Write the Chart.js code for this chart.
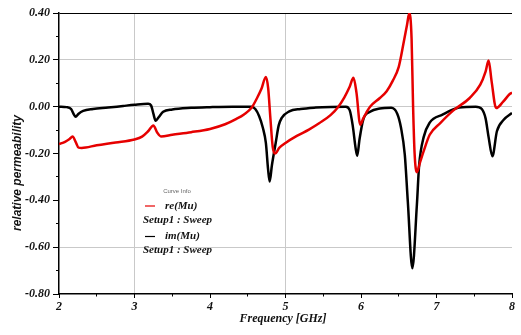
<!DOCTYPE html>
<html><head><meta charset="utf-8">
<script src="https://cdn.jsdelivr.net/npm/chart.js@4"></script>
<style>html,body{margin:0;padding:0;background:#fff}#wrap{width:521px;height:335px;position:relative}</style>
</head><body><div id="wrap"><canvas id="c" width="521" height="335"></canvas></div>
<script>
// ---- data ----
const reFreq = [2.00,2.08,2.14,2.18,2.22,2.26,2.30,2.50,2.75,3.00,3.10,3.18,3.25,3.30,3.35,3.50,3.75,4.00,4.20,4.35,4.45,4.55,4.62,4.68,4.74,4.77,4.80,4.83,4.86,4.92,5.00,5.15,5.31,5.45,5.60,5.70,5.78,5.85,5.90,5.94,5.99,6.03,6.07,6.12,6.25,6.34,6.42,6.50,6.56,6.61,6.64,6.67,6.69,6.71,6.74,6.78,6.83,6.91,7.05,7.22,7.44,7.58,7.65,7.69,7.73,7.79,7.88,7.97,8.00];
const reMu   = [-0.160,-0.150,-0.138,-0.127,-0.150,-0.175,-0.176,-0.165,-0.153,-0.140,-0.128,-0.105,-0.080,-0.110,-0.127,-0.120,-0.109,-0.095,-0.075,-0.052,-0.033,-0.005,0.035,0.075,0.127,0.080,-0.050,-0.170,-0.200,-0.175,-0.155,-0.125,-0.098,-0.070,-0.035,0.000,0.040,0.085,0.123,0.060,-0.077,-0.050,-0.026,0.000,0.037,0.066,0.110,0.170,0.265,0.350,0.400,0.290,0.000,-0.200,-0.280,-0.240,-0.190,-0.120,-0.070,-0.017,0.037,0.094,0.150,0.197,0.108,-0.006,0.020,0.054,0.060];
const imFreq = [2.00,2.10,2.16,2.20,2.22,2.26,2.32,2.45,2.65,2.85,3.00,3.18,3.22,3.25,3.28,3.32,3.38,3.50,3.75,4.00,4.30,4.55,4.60,4.65,4.70,4.74,4.77,4.79,4.82,4.87,4.91,4.95,5.05,5.20,5.40,5.60,5.80,5.85,5.89,5.93,5.95,5.98,6.03,6.12,6.25,6.40,6.48,6.53,6.58,6.62,6.68,6.74,6.77,6.83,6.91,7.08,7.30,7.52,7.60,7.65,7.69,7.74,7.80,7.89,8.00];
const imMu   = [0.000,-0.002,-0.010,-0.035,-0.043,-0.030,-0.018,-0.010,-0.004,0.003,0.008,0.012,0.005,-0.030,-0.060,-0.045,-0.022,-0.012,-0.005,-0.002,0.000,0.000,-0.010,-0.040,-0.090,-0.155,-0.270,-0.320,-0.250,-0.155,-0.080,-0.048,-0.020,-0.010,-0.004,-0.001,0.000,-0.015,-0.080,-0.180,-0.210,-0.140,-0.055,-0.022,-0.008,-0.005,-0.030,-0.090,-0.205,-0.405,-0.690,-0.420,-0.250,-0.130,-0.068,-0.034,-0.004,0.000,-0.010,-0.050,-0.130,-0.212,-0.105,-0.056,-0.027];
const seriesNames = ['re(Mu)', 'im(Mu)'];
const seriesSetup = 'Setup1 : Sweep';
const legendTitle = 'Curve Info';
const xTicks = [2, 3, 4, 5, 6, 7, 8];
const yTicks = [-0.8, -0.6, -0.4, -0.2, 0, 0.2, 0.4];
const xGridAt = [3, 5];
const yGridAt = [0.2, 0, -0.6];
const xMinorStep = 0.5;
const yMinorStep = 0.1;
const xTitle = 'Frequency [GHz]';
const yTitle = 'relative permeability';

const pts = (xs, ys) => xs.map((x, i) => ({x, y: ys[i]}));
const near = (arr, v) => arr.some(a => Math.abs(a - v) < 1e-6);
const serifBI = {family: '"Liberation Serif", "DejaVu Serif", serif', size: 12, style: 'italic', weight: 'bold'};

const overlay = {
  id: 'overlay',
  afterDraw(chart) {
    const ctx = chart.ctx, a = chart.chartArea;
    ctx.save();
    ctx.fillStyle = '#111';
    ctx.font = 'italic bold 12px "Liberation Sans", Arial, sans-serif';
    ctx.textAlign = 'center'; ctx.textBaseline = 'middle';
    ctx.translate(18, 173); ctx.rotate(-Math.PI / 2);
    ctx.fillText(yTitle, 0, 0);
    ctx.restore();
    ctx.save();
    ctx.fillStyle = '#111';
    ctx.font = 'italic bold 12px "Liberation Serif", serif';
    ctx.textAlign = 'center'; ctx.textBaseline = 'middle';
    ctx.fillText(xTitle, 283, 319);
    const lx = a.left + 84, ly = a.top + 178;
    ctx.font = '6px "Liberation Sans", sans-serif';
    ctx.fillStyle = '#666';
    ctx.fillText(legendTitle, lx + 34, ly);
    const ds = chart.data.datasets;
    ctx.font = 'italic bold 11px "Liberation Serif", serif';
    ds.forEach((d, i) => {
      const y0 = ly + 15 + i * 30.5;
      ctx.strokeStyle = d.borderColor; ctx.lineWidth = 1.2;
      ctx.beginPath(); ctx.moveTo(lx + 2, y0); ctx.lineTo(lx + 12, y0); ctx.stroke();
      ctx.fillStyle = '#111';
      ctx.textAlign = 'left';
      ctx.fillText(seriesNames[i], lx + 22, y0);
      ctx.fillText(seriesSetup, lx, y0 + 14);
    });
    ctx.restore();
  }
};

new Chart(document.getElementById('c'), {
  type: 'line',
  data: {
    datasets: [
      {label: seriesNames[0], data: pts(reFreq, reMu), borderColor: '#e60000', borderWidth: 2.5, pointRadius: 0, cubicInterpolationMode: 'monotone', fill: false},
      {label: seriesNames[1], data: pts(imFreq, imMu), borderColor: '#000000', borderWidth: 2.5, pointRadius: 0, cubicInterpolationMode: 'monotone', fill: false}
    ]
  },
  options: {
    responsive: false, animation: false, devicePixelRatio: 1,
    layout: {padding: {top: 13, right: 9, left: 0, bottom: 0}},
    plugins: {legend: {display: false}, tooltip: {enabled: false}},
    scales: {
      x: {
        type: 'linear', min: 2, max: 8, weight: 0,
        afterBuildTicks: s => { s.ticks = xTicks.map(v => ({value: v})); },
        afterFit: s => { s.height = 41; },
        ticks: {font: serifBI, color: '#111', padding: 2, maxRotation: 0},
        grid: {color: c => near(xGridAt, c.tick.value) ? '#c9c9c9' : 'rgba(0,0,0,0)', tickColor: '#000', tickLength: 4, lineWidth: 1},
        border: {color: '#000', width: 1.5}
      },
      x2: {
        type: 'linear', position: 'bottom', min: 2, max: 8, weight: -1,
        ticks: {display: false, stepSize: xMinorStep},
        afterFit: s => { s.height = 0; },
        grid: {drawOnChartArea: false, tickColor: '#000', tickLength: 2.5},
        border: {display: false}
      },
      y: {
        type: 'linear', min: -0.8, max: 0.4, weight: 0,
        afterBuildTicks: s => { s.ticks = yTicks.map(v => ({value: v})); },
        afterFit: s => { s.width = 59; },
        ticks: {font: serifBI, color: '#111', padding: 3, callback: v => Number(v).toFixed(2)},
        grid: {color: c => Math.abs(c.tick.value - 0.4) < 1e-6 ? '#000' : (near(yGridAt, c.tick.value) ? '#c9c9c9' : 'rgba(0,0,0,0)'), tickColor: '#000', tickLength: 6, lineWidth: 1},
        border: {color: '#000', width: 1.5}
      },
      y2: {
        type: 'linear', position: 'left', min: -0.8, max: 0.4, weight: -1,
        ticks: {display: false, stepSize: yMinorStep},
        afterFit: s => { s.width = 0; },
        grid: {drawOnChartArea: false, tickColor: '#000', tickLength: 3},
        border: {display: false}
      }
    }
  },
  plugins: [overlay]
});
</script></body></html>
